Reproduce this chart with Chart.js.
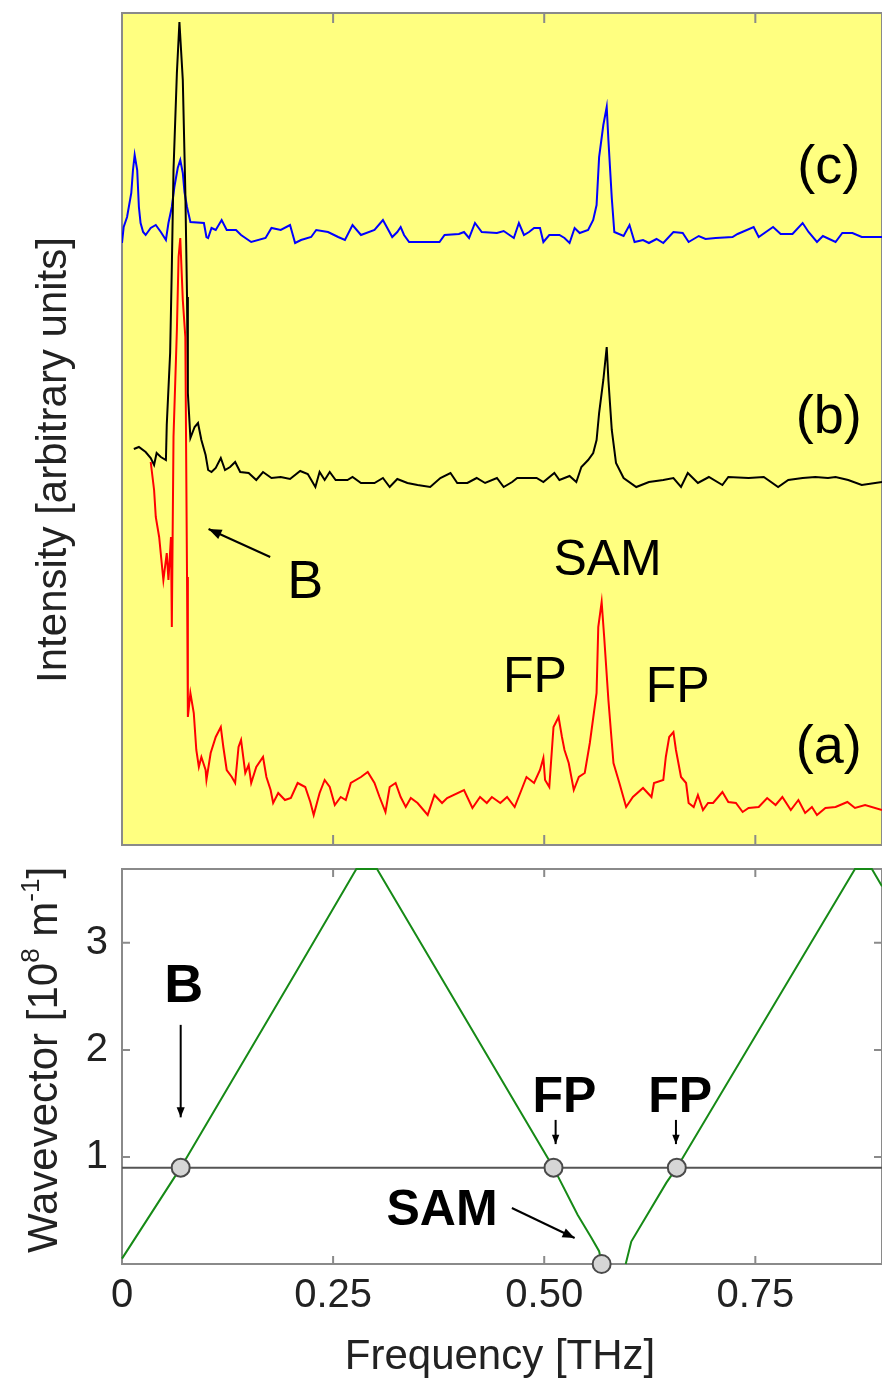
<!DOCTYPE html>
<html>
<head>
<meta charset="utf-8">
<script src="https://cdn.jsdelivr.net/npm/chart.js@4.4.1/dist/chart.umd.min.js"></script>
<style>
  html, body { margin: 0; padding: 0; background: #fff; overflow: hidden; }
  body { width: 882px; height: 1385px; position: relative; }
  .box { position: absolute; left: 0; width: 882px; }
  #topBox    { top: 0;     height: 850px; }
  #bottomBox { top: 850px; height: 535px; }
  canvas { display: block; }
</style>
</head>
<body>
<div class="box" id="topBox"><canvas id="top" width="882" height="850" style="width:882px;height:850px"></canvas></div>
<div class="box" id="bottomBox"><canvas id="bottom" width="882" height="535" style="width:882px;height:535px"></canvas></div>
<script>
// ── Data ─────────────────────────────────────────────────────────────────────

// (c) blue spectrum, frequency [THz] / intensity [arb.]
const specFreqC = [0, .002, .006, .011, .013, .015, .018, .020, .022, .025,
    .028, .034, .040, .046, .052, .055, .059, .062, .066, .069,
    .072, .074, .077, .081, .097, .100, .102, .106, .111, .118,
    .124, .135, .141, .153, .170, .177, .188, .199, .205, .212,
    .224, .230, .244, .256, .264, .273, .283, .299, .309, .320,
    .326, .330, .334, .340, .376, .382, .399, .405, .411, .418,
    .426, .444, .452, .464, .470, .476, .482, .488, .495, .499,
    .506, .518, .524, .530, .536, .542, .552, .558, .562, .565,
    .570, .574, .576, .580, .583, .594, .601, .607, .617, .624,
    .633, .641, .653, .664, .671, .683, .691, .703, .723, .729,
    .748, .754, .771, .780, .794, .806, .813, .823, .830, .845,
    .853, .865, .876, .900];
const specC = [60.2, 61.8, 62.8, 65.2, 67.5, 69.0, 67.5, 63.8, 62.2, 61.3,
    61.0, 61.7, 62.0, 61.3, 60.5, 62.2, 63.8, 65.8, 67.7, 68.5,
    67.2, 65.3, 63.8, 62.3, 62.2, 60.8, 60.7, 61.7, 61.5, 62.5,
    61.5, 61.5, 61.0, 60.3, 60.7, 61.7, 61.5, 62.0, 60.2, 60.5,
    60.8, 61.5, 61.3, 60.8, 60.5, 62.0, 61.0, 61.5, 62.5, 60.8,
    61.3, 61.8, 61.0, 60.3, 60.3, 61.0, 61.1, 61.3, 60.7, 62.2,
    61.3, 61.2, 61.4, 60.7, 62.2, 61.0, 61.3, 61.7, 61.7, 60.3,
    61.0, 61.0, 60.7, 60.2, 61.7, 61.2, 61.5, 62.5, 64.0, 68.8,
    72.0, 73.8, 70.5, 64.7, 61.3, 60.9, 62.0, 60.3, 60.5, 60.2,
    60.6, 60.2, 61.3, 61.2, 60.3, 60.9, 60.6, 60.7, 60.8, 61.1,
    61.8, 60.8, 61.8, 61.1, 61.1, 62.2, 61.3, 60.3, 60.9, 60.3,
    61.2, 61.2, 60.8, 60.8];

// (b) black spectrum
const specFreqB = [.014, .020, .028, .034, .038, .041, .046, .052, .053, .057,
    .059, .061, .065, .068, .072, .075, .077, .078, .081, .086,
    .090, .094, .099, .102, .106, .111, .117, .122, .128, .134,
    .140, .150, .159, .167, .177, .188, .199, .211, .220, .229,
    .234, .240, .246, .253, .267, .273, .283, .299, .309, .317,
    .326, .338, .350, .365, .377, .389, .397, .409, .420, .430,
    .444, .452, .462, .468, .491, .499, .512, .518, .530, .538,
    .544, .552, .558, .562, .565, .570, .574, .576, .580, .585,
    .594, .609, .624, .641, .653, .662, .670, .682, .695, .711,
    .718, .742, .760, .777, .789, .806, .821, .836, .845, .860,
    .876, .900];
const specB = [39.6, 39.8, 39.3, 38.7, 38.0, 39.2, 38.8, 38.5, 42.0, 49.2,
    57.8, 67.5, 77.2, 82.3, 76.5, 65.3, 54.8, 45.2, 40.7, 41.8,
    42.2, 40.5, 39.0, 37.5, 37.3, 37.7, 38.7, 37.5, 37.8, 38.3,
    37.3, 37.2, 36.5, 37.3, 36.7, 36.8, 36.6, 37.4, 37.1, 35.8,
    37.3, 36.5, 37.3, 36.5, 36.5, 36.8, 36.2, 36.2, 36.7, 35.8,
    36.6, 36.2, 36.0, 35.8, 36.7, 37.2, 36.2, 36.2, 36.7, 36.2,
    36.7, 35.8, 36.3, 36.7, 36.7, 36.3, 37.2, 36.5, 36.9, 36.3,
    37.8, 38.5, 39.2, 40.5, 43.2, 46.5, 49.8, 46.5, 41.5, 38.2,
    36.7, 35.8, 36.3, 36.5, 36.7, 35.8, 37.2, 36.2, 36.8, 36.0,
    36.8, 36.7, 36.8, 35.8, 36.5, 36.7, 36.8, 36.7, 36.8, 36.5,
    36.0, 36.3];

// (a) red spectrum
const specFreqA = [.034, .038, .040, .044, .047, .049, .053, .055, .058, .059,
    .061, .065, .067, .069, .072, .075, .077, .078, .081, .085,
    .088, .091, .094, .099, .100, .105, .111, .117, .120, .124,
    .130, .134, .138, .141, .146, .150, .153, .159, .167, .171,
    .176, .179, .185, .193, .200, .208, .217, .223, .227, .234,
    .240, .246, .252, .259, .265, .271, .283, .291, .299, .305,
    .312, .317, .324, .330, .336, .342, .350, .362, .370, .379,
    .385, .405, .415, .424, .432, .438, .448, .456, .465, .473,
    .479, .488, .495, .499, .501, .506, .511, .517, .521, .524,
    .529, .535, .541, .548, .554, .562, .564, .568, .571, .576,
    .582, .589, .597, .605, .617, .627, .630, .641, .644, .648,
    .653, .656, .662, .668, .671, .677, .682, .688, .694, .700,
    .711, .718, .727, .735, .742, .754, .764, .774, .782, .792,
    .801, .809, .817, .823, .833, .845, .859, .868, .880, .900];
const specA = [38.3, 35.5, 32.8, 30.8, 28.2, 26.5, 29.2, 26.5, 30.8, 21.8,
    40.8, 51.5, 58.8, 60.7, 54.5, 50.8, 26.8, 12.8, 15.2, 13.2,
    9.5, 7.8, 8.8, 7.5, 6.5, 9.2, 10.8, 11.8, 9.8, 7.5,
    6.8, 6.2, 9.8, 10.5, 7.2, 8.0, 6.2, 7.8, 8.8, 6.8,
    5.5, 4.2, 5.2, 4.5, 4.7, 6.2, 5.8, 4.3, 3.0, 5.2,
    6.5, 5.8, 4.0, 4.8, 4.5, 6.2, 6.8, 7.3, 6.2, 4.8,
    3.3, 5.8, 6.2, 4.8, 3.8, 4.7, 4.2, 3.0, 5.0, 4.2,
    4.7, 5.5, 3.7, 4.8, 4.2, 4.8, 4.2, 4.8, 3.8, 5.5,
    6.8, 6.2, 7.5, 8.7, 6.5, 5.8, 11.8, 12.8, 10.8, 9.5,
    8.2, 5.5, 6.8, 7.2, 10.2, 15.2, 21.8, 24.3, 20.8, 14.5,
    8.2, 6.2, 3.8, 4.8, 5.7, 4.8, 6.2, 6.5, 8.8, 10.8,
    11.3, 9.5, 6.8, 6.2, 4.2, 3.8, 5.0, 3.5, 4.2, 4.2,
    5.3, 4.3, 4.2, 3.3, 3.7, 3.8, 4.7, 4.0, 4.8, 3.5,
    4.5, 3.2, 3.8, 3.0, 3.7, 3.8, 4.3, 3.7, 4.0, 3.5];

// Dispersion branches, wavevector [1e8 1/m]
const dispFreqLow  = [0, 0.0695, 0.207, 0.2775, 0.302, 0.511, 0.5395, 0.5555, 0.565, 0.568];
const dispKLow     = [0.05, 0.9, 2.74, 3.69, 3.69, 0.9, 0.46, 0.25, 0.12, 0.0];
const dispFreqHigh = [0.5965, 0.6031, 0.6447, 0.657, 0.868, 0.888, 0.9];
const dispKHigh    = [0.0, 0.21, 0.76, 0.9, 3.69, 3.69, 3.53];

// Probe wavevector line and observed modes (B, FP, FP, SAM)
const lineFreq = [0, 0.9];
const lineK    = [0.9, 0.9];
const modeFreq = [0.0695, 0.511, 0.657, 0.568];
const modeK    = [0.9, 0.9, 0.9, 0.0];

const freqTicks = [0, 0.25, 0.5, 0.75];
const freqTickLabels = ['0', '0.25', '0.50', '0.75'];
const kTicks = [1, 2, 3];

const FREQ_MAX = 0.9;
const INT_MAX = 83.2;
const K_MAX = 3.69;

const FONT = "'Liberation Sans', Arial, Helvetica, sans-serif";
const TEXT = '#222';

// ── Helpers ──────────────────────────────────────────────────────────────────

const pts = (xs, ys) => xs.map((x, i) => ({ x, y: ys[i] }));

function drawArrow(ctx, x1, y1, x2, y2, head) {
    ctx.beginPath();
    ctx.moveTo(x1, y1);
    ctx.lineTo(x2, y2);
    ctx.stroke();
    const a = Math.atan2(y2 - y1, x2 - x1);
    ctx.beginPath();
    ctx.moveTo(x2, y2);
    ctx.lineTo(x2 - head * Math.cos(a - 0.38), y2 - head * Math.sin(a - 0.38));
    ctx.lineTo(x2 - head * Math.cos(a + 0.38), y2 - head * Math.sin(a + 0.38));
    ctx.closePath();
    ctx.fill();
}

// text made of normal and superscript pieces, centred on current origin
function drawRich(ctx, parts, size) {
    ctx.textAlign = 'left';
    let w = 0;
    parts.forEach(p => {
        ctx.font = `${p.sup ? size * 0.62 : size}px ${FONT}`;
        p.w = ctx.measureText(p.t).width;
        w += p.w;
    });
    let x = -w / 2;
    parts.forEach(p => {
        ctx.font = `${p.sup ? size * 0.62 : size}px ${FONT}`;
        ctx.fillText(p.t, x, p.sup ? -size * 0.42 : 0);
        x += p.w;
    });
}

// axes must not push the plot area around
function fixAxis(size) {
    return s => {
        if (s.isHorizontal()) s.height = size; else s.width = size;
        s.paddingTop = s.paddingBottom = s.paddingLeft = s.paddingRight = 0;
    };
}

// frame, inward ticks, notes and arrows
const framePlugin = {
    id: 'frame',
    beforeDraw(chart, args, opts) {
        if (!opts.fill) return;
        const { ctx, chartArea: a } = chart;
        ctx.save();
        ctx.fillStyle = opts.fill;
        ctx.fillRect(a.left, a.top, a.right - a.left, a.bottom - a.top);
        ctx.restore();
    },
    beforeDatasetsDraw(chart, args, opts) {
        const { ctx, chartArea: a, scales } = chart;
        ctx.save();
        ctx.strokeStyle = '#8a8a8a';
        ctx.lineWidth = 2;
        ctx.strokeRect(a.left, a.top, a.right - a.left, a.bottom - a.top);
        ctx.beginPath();
        (opts.xTicks || []).forEach(v => {
            const x = scales.x.getPixelForValue(v);
            ctx.moveTo(x, a.top);    ctx.lineTo(x, a.top + opts.len);
            ctx.moveTo(x, a.bottom); ctx.lineTo(x, a.bottom - opts.len);
        });
        (opts.yTicks || []).forEach(v => {
            const y = scales.y.getPixelForValue(v);
            ctx.moveTo(a.left, y);  ctx.lineTo(a.left + opts.len, y);
            ctx.moveTo(a.right, y); ctx.lineTo(a.right - opts.len, y);
        });
        ctx.stroke();
        ctx.restore();
    },
    afterDraw(chart, args, opts) {
        const { ctx, scales } = chart;
        ctx.save();
        ctx.fillStyle = '#000';
        ctx.strokeStyle = '#000';
        ctx.lineWidth = 2;
        ctx.textAlign = 'center';
        ctx.textBaseline = 'alphabetic';
        (opts.notes || []).forEach(n => {
            ctx.font = `${n.bold ? 'bold ' : ''}${n.size}px ${FONT}`;
            ctx.fillText(n.t, scales.x.getPixelForValue(n.f), scales.y.getPixelForValue(n.v));
        });
        (opts.arrows || []).forEach(r => {
            drawArrow(ctx,
                scales.x.getPixelForValue(r.f1), scales.y.getPixelForValue(r.v1),
                scales.x.getPixelForValue(r.f2), scales.y.getPixelForValue(r.v2), r.head);
        });
        if (opts.titles) opts.titles(ctx);
        ctx.restore();
    },
};

function lineSet(data, color, extra) {
    return Object.assign({
        data, showLine: true, borderColor: color, borderWidth: 2,
        pointRadius: 0, pointHoverRadius: 0, tension: 0, fill: false,
    }, extra || {});
}

// ── Top: intensity spectra ───────────────────────────────────────────────────

// right padding is negative: the right frame edge lies just past the picture
new Chart(document.getElementById('top'), {
    type: 'scatter',
    data: {
        datasets: [
            lineSet(pts(specFreqA, specA), '#ff0000'),
            lineSet(pts(specFreqB, specB), '#000000'),
            lineSet(pts(specFreqC, specC), '#0000ff'),
        ],
    },
    options: {
        responsive: false,
        maintainAspectRatio: false,
        animation: false,
        events: [],
        layout: { autoPadding: false, padding: { left: 122, top: 13, right: -6, bottom: 5 } },
        scales: {
            x: { type: 'linear', min: 0, max: FREQ_MAX, display: false },
            y: { type: 'linear', min: 0, max: INT_MAX, display: false },
        },
        plugins: {
            legend: { display: false },
            tooltip: { enabled: false },
            frame: {
                fill: '#ffff80',
                xTicks: [0.25, 0.5, 0.75],
                len: 10,
                notes: [
                    { t: '(c)', f: 0.837, v: 66.2, size: 54 },
                    { t: '(b)', f: 0.837, v: 41.2, size: 54 },
                    { t: '(a)', f: 0.837, v: 8.2,  size: 54 },
                    { t: 'SAM', f: 0.575, v: 27.0, size: 50 },
                    { t: 'FP',  f: 0.489, v: 15.3, size: 50 },
                    { t: 'FP',  f: 0.658, v: 14.3, size: 50 },
                    { t: 'B',   f: 0.217, v: 24.7, size: 54 },
                ],
                arrows: [
                    { f1: 0.1755, v1: 28.8, f2: 0.1025, v2: 31.6, head: 14 },
                ],
                titles: ctx => {
                    ctx.fillStyle = TEXT;
                    ctx.translate(66, 460);
                    ctx.rotate(-Math.PI / 2);
                    ctx.font = `42px ${FONT}`;
                    ctx.fillText('Intensity [arbitrary units]', 0, 0);
                },
            },
        },
    },
    plugins: [framePlugin],
});

// ── Bottom: dispersion ───────────────────────────────────────────────────────

new Chart(document.getElementById('bottom'), {
    type: 'scatter',
    data: {
        datasets: [
            {
                data: pts(modeFreq, modeK), showLine: false, clip: false, order: 0,
                pointRadius: 9, pointHoverRadius: 9, pointBorderWidth: 2,
                pointBackgroundColor: '#d6d6d6', pointBorderColor: '#4a4a4a',
            },
            lineSet(pts(dispFreqLow, dispKLow), '#168a16', { clip: false, order: 1 }),
            lineSet(pts(dispFreqHigh, dispKHigh), '#168a16', { clip: false, order: 1 }),
            lineSet(pts(lineFreq, lineK), '#555555', { order: 2 }),
        ],
    },
    options: {
        responsive: false,
        maintainAspectRatio: false,
        animation: false,
        events: [],
        layout: { autoPadding: false, padding: { left: 0, top: 19, right: -6, bottom: 0 } },
        scales: {
            x: {
                type: 'linear', min: 0, max: FREQ_MAX,
                grid: { display: false, drawTicks: false },
                border: { display: false },
                afterBuildTicks: s => { s.ticks = freqTicks.map(v => ({ value: v })); },
                afterFit: fixAxis(121),
                ticks: {
                    padding: 8, color: TEXT, maxRotation: 0, autoSkip: false,
                    font: { family: FONT, size: 40 },
                    callback: v => freqTickLabels[freqTicks.indexOf(v)],
                },
            },
            y: {
                type: 'linear', min: 0, max: K_MAX,
                grid: { display: false, drawTicks: false },
                border: { display: false },
                afterBuildTicks: s => { s.ticks = kTicks.map(v => ({ value: v })); },
                afterFit: fixAxis(122),
                ticks: {
                    padding: 14, color: TEXT, autoSkip: false,
                    font: { family: FONT, size: 40 },
                    callback: v => String(v),
                },
            },
        },
        plugins: {
            legend: { display: false },
            tooltip: { enabled: false },
            frame: {
                xTicks: [0.25, 0.5, 0.75],
                yTicks: kTicks,
                len: 8,
                notes: [
                    { t: 'B',   f: 0.073, v: 2.45,  size: 54, bold: true },
                    { t: 'FP',  f: 0.524, v: 1.42,  size: 50, bold: true },
                    { t: 'FP',  f: 0.661, v: 1.42,  size: 50, bold: true },
                    { t: 'SAM', f: 0.379, v: 0.364, size: 50, bold: true },
                ],
                arrows: [
                    { f1: 0.0695, v1: 2.234, f2: 0.0695, v2: 1.37, head: 11 },
                    { f1: 0.5135, v1: 1.346, f2: 0.5135, v2: 1.12, head: 10 },
                    { f1: 0.656,  v1: 1.346, f2: 0.656,  v2: 1.12, head: 10 },
                    { f1: 0.4617, v1: 0.523, f2: 0.536,  v2: 0.243, head: 13 },
                ],
                titles: ctx => {
                    ctx.fillStyle = TEXT;
                    ctx.font = `42px ${FONT}`;
                    ctx.fillText('Frequency [THz]', 500, 519);
                    ctx.translate(57, 210);
                    ctx.rotate(-Math.PI / 2);
                    drawRich(ctx, [
                        { t: 'Wavevector [10' }, { t: '8', sup: true },
                        { t: ' m' }, { t: '-1', sup: true }, { t: ']' },
                    ], 42);
                },
            },
        },
    },
    plugins: [framePlugin],
});
</script>
</body>
</html>
